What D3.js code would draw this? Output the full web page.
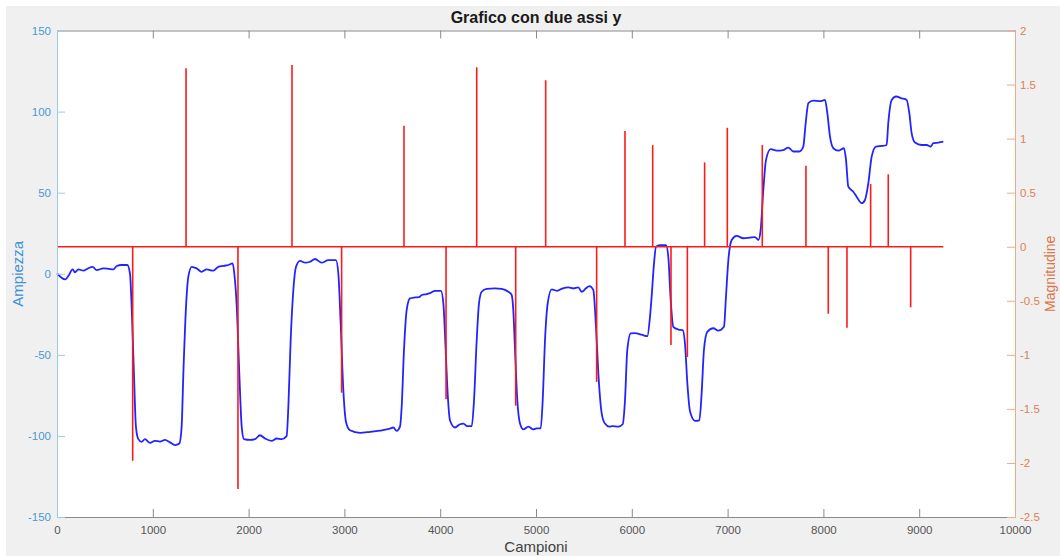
<!DOCTYPE html>
<html>
<head>
<meta charset="utf-8">
<script src="https://cdn.jsdelivr.net/npm/d3@7"></script>
<style>
  html, body { margin: 0; padding: 0; background: #ffffff; }
  svg { display: block; font-family: "Liberation Sans", Arial, Helvetica, sans-serif; }
</style>
</head>
<body>
<svg id="chart" width="1060" height="556"></svg>
<script>
// Signal samples (left axis): sample index and amplitude
const sampleIdx = [
  0, 84, 118, 164, 187, 223, 275, 320, 372, 414, 483, 540, 588, 623, 675, 734,
  762, 779, 803, 824, 849, 883, 918, 971, 1023, 1075, 1127, 1180, 1232, 1277,
  1301, 1319, 1347, 1371, 1406, 1458, 1510, 1562, 1632, 1684, 1736, 1788, 1834,
  1851, 1876, 1903, 1928, 1952, 2015, 2067, 2119, 2171, 2241, 2293, 2345, 2397,
  2415, 2439, 2467, 2495, 2537, 2589, 2641, 2693, 2763, 2832, 2912,
  2937, 2961, 2989, 3017, 3058, 3163, 3267, 3372, 3476, 3511, 3546, 3580,
  3598, 3622, 3650, 3685, 3737, 3779, 3807, 3859, 3894, 3946, 4008,
  4033, 4057, 4078, 4102, 4154, 4207, 4242, 4283, 4329,
  4353, 4381, 4405, 4433, 4485, 4572, 4642, 4711, 4746,
  4763, 4781, 4805, 4833, 4868, 4920, 4972, 5007, 5049,
  5070, 5094, 5122, 5164, 5216, 5268, 5338, 5390, 5442, 5477, 5522, 5557, 5598,
  5626, 5651, 5686, 5720, 5765, 5800, 5859, 5905,
  5929, 5953, 5989, 6033, 6103, 6162, 6190, 6207, 6230, 6253, 6294, 6357,
  6381, 6406, 6433, 6486, 6531, 6555, 6580, 6608, 6660, 6705,
  6729, 6753, 6788, 6851, 6903, 6962, 6983, 7008, 7043, 7095, 7164, 7234, 7286, 7321,
  7345, 7373, 7401, 7450, 7512, 7582, 7634, 7686, 7749, 7790,
  7815, 7843, 7895, 7965, 8017, 8041, 8069, 8104, 8156, 8215,
  8236, 8260, 8312, 8347, 8399, 8434, 8469, 8504, 8549, 8608, 8660,
  8677, 8713, 8758, 8817, 8869, 8897, 8921, 8956, 9026, 9078, 9120, 9147, 9200, 9252
];
const ampiezza = [
  0.2, -3.5, -1.4, 2.7, 0.9, 2.7, 1.9, 3.2, 4.3, 2.2, 3.3, 3.0, 2.7, 4.8, 5.4, 5.4,
  0, -20, -61.5, -94.4, -102, -103.7, -102, -104.3, -103, -103.5, -102.5, -104, -105.7, -104.7,
  -94.4, -61.5, -20, -1.8, 4.3, 3.3, 1.2, 2.7, 1.9, 4.3, 4.8, 5.4, 6.4,
  0, -20, -61.5, -94.4, -102, -102.5, -102, -99.6, -101.6, -103, -101.6, -102, -100.1,
  -82, -41, -10, 4.3, 8.0, 6.8, 7.4, 9.1, 6.8, 8.4, 8.4,
  0, -30.6, -71.8, -91.4, -96.5, -98.1, -97.5, -96.7, -95.5, -94.8, -96.9, -94.3,
  -82, -47, -22.4, -15.2, -14.6, -14.4, -13.1, -12.5, -12.0, -10.5, -10.5,
  -18.3, -47, -73.8, -90.3, -94.8, -92.8, -92.4, -94, -94,
  -78, -41, -18.3, -11.1, -9.3, -9.0, -9.3, -11.1, -13.1,
  -22.4, -47, -78, -92.4, -96, -94.3, -96, -95.3, -95.3,
  -78, -41, -18.3, -9.6, -10.5, -9.3, -8.4, -9.0, -8.4, -11.1, -9.0, -7.6, -10,
  -32.7, -61.5, -86.2, -92.4, -94.3, -94, -94.3, -92.8,
  -78, -47, -36.8, -36.6, -37.6, -38.5, -26.5, -14.2, 5, 16.7, 17.7, 17.7,
  10.5, -16.2, -32.7, -34.4, -34.8, -43, -67.7, -85, -90.7, -90.4,
  -73.8, -47, -35.8, -33.6, -35.1, -32.7, -14.2, 8.5, 20.8, 23.3, 21.9, 22.3, 22.6, 20.8,
  27, 51.7, 70.2, 76.8, 75.9, 76.3, 77.8, 75.4, 75.4, 78.4,
  92.8, 105.2, 106.8, 106.4, 107.2, 99, 84.6, 77.4, 75.9, 77.4,
  70.2, 53.7, 50.6, 47.5, 43.5, 45.5, 55.8, 72.2, 78.4, 78.8, 79.4,
  92.8, 107.2, 109.3, 108.2, 107.2, 99, 86.7, 80.9, 79.4, 79.4, 78.4, 80.5, 80.9, 81.5
];

// Detected changes (right axis): position and magnitude
const stemPos = [790, 1347, 1889, 2453, 2971, 3622, 4061, 4381, 4788, 5101, 5633, 5929,
                 6218, 6409, 6580, 6760, 6997, 7362, 7818, 8051, 8246, 8493, 8677, 8911];
const stemMag = [-1.98, 1.65, -2.24, 1.68, -1.35, 1.12, -1.41, 1.66, -1.47, 1.54, -1.25, 1.07,
                 0.94, -0.91, -1.02, 0.78, 1.10, 0.94, 0.75, -0.62, -0.75, 0.58, 0.67, -0.56];
const baselineEnd = 9252;

// Tick values
const xTickValues = [0, 1000, 2000, 3000, 4000, 5000, 6000, 7000, 8000, 9000, 10000];
const leftTickValues = [-150, -100, -50, 0, 50, 100, 150];
const rightTickValues = [-2.5, -2, -1.5, -1, -0.5, 0, 0.5, 1, 1.5, 2];

const svg = d3.select("#chart");
const W = 1060, H = 556;
const plot = { left: 57, right: 1015, top: 30.5, bottom: 517 };

const x = d3.scaleLinear().domain([0, 10000]).range([plot.left, plot.right]);
const yL = d3.scaleLinear().domain([-150, 150]).range([plot.bottom, plot.top]);
const yR = d3.scaleLinear().domain([-2.5, 2]).range([plot.bottom, plot.top]);

const leftTextColor = "#4a98d4", leftLineColor = "#9fc9ea";
const rightTextColor = "#df8055", rightLineColor = "#e9ac8c";
const grayText = "#555555", grayLine = "#8a8a8a";

// Figure background
svg.append("rect").attr("x", 0).attr("y", 0).attr("width", W).attr("height", H).attr("fill", "#ffffff");
svg.append("rect").attr("x", 6).attr("y", 6).attr("width", W - 6).attr("height", H - 6).attr("fill", "#f0f0f0");
// Axes area
svg.append("rect")
  .attr("x", plot.left).attr("y", plot.top)
  .attr("width", plot.right - plot.left).attr("height", plot.bottom - plot.top)
  .attr("fill", "#ffffff");

// Signal line
const line = d3.line()
  .x((d, i) => x(sampleIdx[i]))
  .y((d, i) => yL(ampiezza[i]))
  .curve(d3.curveMonotoneX);

svg.append("path")
  .attr("d", line(ampiezza))
  .attr("fill", "none")
  .attr("stroke", "#2323ff")
  .attr("stroke-width", 1.8)
  .attr("stroke-linejoin", "round");

// Stems and baseline
const stems = svg.append("g").attr("stroke", "#ff1a1a").attr("stroke-width", 1.6);
stems.append("line")
  .attr("x1", x(0)).attr("x2", x(baselineEnd))
  .attr("y1", yR(0)).attr("y2", yR(0));
stems.selectAll("line.stem")
  .data(stemPos)
  .join("line")
  .attr("class", "stem")
  .attr("x1", d => x(d)).attr("x2", d => x(d))
  .attr("y1", yR(0))
  .attr("y2", (d, i) => yR(stemMag[i]));

const fmt = d => String(d);

// Bottom axis
const gB = svg.append("g")
  .attr("transform", `translate(0,${plot.bottom})`)
  .call(d3.axisBottom(x).tickValues(xTickValues).tickSize(-8).tickSizeOuter(0).tickPadding(9).tickFormat(fmt));
gB.select(".domain").attr("stroke", grayLine);
gB.selectAll(".tick line").attr("stroke", grayLine);
gB.selectAll(".tick text").attr("fill", grayText).attr("font-size", 11.5)
  .attr("font-family", "'Liberation Sans', Arial, sans-serif");

// Top axis (box)
const gT = svg.append("g")
  .attr("transform", `translate(0,${plot.top})`)
  .call(d3.axisTop(x).tickValues(xTickValues).tickSize(-8).tickSizeOuter(0).tickFormat(""));
gT.select(".domain").attr("stroke", grayLine);
gT.selectAll(".tick line").attr("stroke", grayLine);

// Left axis
const gL = svg.append("g")
  .attr("transform", `translate(${plot.left},0)`)
  .call(d3.axisLeft(yL).tickValues(leftTickValues).tickSize(-8).tickSizeOuter(0).tickPadding(6).tickFormat(fmt));
gL.select(".domain").attr("stroke", leftLineColor);
gL.selectAll(".tick line").attr("stroke", leftLineColor);
gL.selectAll(".tick text").attr("fill", leftTextColor).attr("font-size", 11.5)
  .attr("font-family", "'Liberation Sans', Arial, sans-serif");

// Right axis
const gR = svg.append("g")
  .attr("transform", `translate(${plot.right},0)`)
  .call(d3.axisRight(yR).tickValues(rightTickValues).tickSize(-8).tickSizeOuter(0).tickPadding(5).tickFormat(fmt));
gR.select(".domain").attr("stroke", rightLineColor);
gR.selectAll(".tick line").attr("stroke", rightLineColor);
gR.selectAll(".tick text").attr("fill", rightTextColor).attr("font-size", 11.5)
  .attr("font-family", "'Liberation Sans', Arial, sans-serif");

// Title and axis labels
svg.append("text")
  .attr("x", 536).attr("y", 23)
  .attr("text-anchor", "middle")
  .attr("font-size", 16).attr("font-weight", "bold")
  .attr("fill", "#1a1a1a")
  .text("Grafico con due assi y");

svg.append("text")
  .attr("x", 536).attr("y", 552)
  .attr("text-anchor", "middle")
  .attr("font-size", 15)
  .attr("fill", "#404040")
  .text("Campioni");

svg.append("text")
  .attr("transform", `translate(23,${(plot.top + plot.bottom) / 2}) rotate(-90)`)
  .attr("text-anchor", "middle")
  .attr("font-size", 15)
  .attr("fill", "#3f92d2")
  .text("Ampiezza");

svg.append("text")
  .attr("transform", `translate(1055,${(plot.top + plot.bottom) / 2}) rotate(-90)`)
  .attr("text-anchor", "middle")
  .attr("font-size", 14)
  .attr("fill", "#dc7546")
  .text("Magnitudine");
</script>
</body>
</html>
